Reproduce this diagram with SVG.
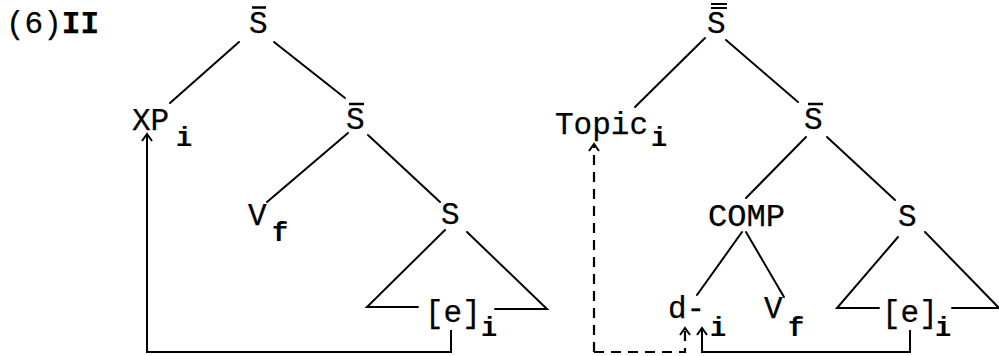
<svg xmlns="http://www.w3.org/2000/svg" width="999" height="356" viewBox="0 0 999 356">
<defs>
<marker id="ah" viewBox="0 0 12 12" refX="10" refY="6" markerWidth="12" markerHeight="12" markerUnits="userSpaceOnUse" orient="auto">
<path d="M3,1 L10,6 L3,11" fill="none" stroke="#000" stroke-width="2"/>
</marker>
</defs>
<style>
text{font-family:"Liberation Mono","Courier New",monospace;fill:#000;}
.l{font-size:31px;stroke:#000;stroke-width:0.25;}
.s{font-size:27px;font-weight:bold;}
.e{stroke:#000;stroke-width:2;fill:none;stroke-linecap:round;}
.bar{stroke:#000;stroke-width:2.5;}
.c{stroke:#000;stroke-width:2;fill:none;}
.d{stroke:#000;stroke-width:2.2;fill:none;stroke-dasharray:10 7;}
</style>
<text class="l" x="6" y="33">(6)<tspan font-weight="bold">II</tspan></text>

<g id="L_Sbar_top"><text class="l" x="249" y="33">S</text><line class="bar" x1="252" y1="7.5" x2="266" y2="7.5"/></g>
<g id="L_XP"><text class="l" x="132" y="130">XP</text><text class="s" x="176" y="146">i</text></g>
<g id="L_Sbar_mid"><text class="l" x="346" y="129">S</text><line class="bar" x1="349" y1="104" x2="364" y2="104"/></g>
<g id="L_Vf"><text class="l" x="248" y="225">V</text><text class="s" x="272" y="241">f</text></g>
<g id="L_S"><text class="l" x="441" y="224">S</text></g>
<g id="L_e"><text class="l" x="425" y="322">[e]</text><text class="s" x="481" y="336">i</text></g>

<g id="R_Sbb_top"><text class="l" x="707" y="33">S</text><line x1="711" y1="4" x2="727" y2="4" stroke="#000" stroke-width="2"/><line x1="711" y1="8" x2="727" y2="8" stroke="#000" stroke-width="2"/></g>
<g id="R_Topic"><text class="l" x="555" y="134">Topic</text><text class="s" x="651" y="146">i</text></g>
<g id="R_Sbar_mid"><text class="l" x="804" y="129">S</text><line class="bar" x1="808" y1="104" x2="823" y2="104"/></g>
<g id="R_COMP"><text class="l" x="708" y="226" textLength="77" lengthAdjust="spacingAndGlyphs">COMP</text></g>
<g id="R_S"><text class="l" x="898" y="226">S</text></g>
<g id="R_d"><text class="l" x="668" y="318">d-</text><text class="s" x="710" y="336">i</text></g>
<g id="R_Vf"><text class="l" x="764" y="318">V</text><text class="s" x="788" y="336">f</text></g>
<g id="R_e"><text class="l" x="882" y="322">[e]</text><text class="s" x="935" y="336">i</text></g>

<g id="connectors">
<line class="e" x1="239" y1="42" x2="170" y2="103"/>
<line class="e" x1="274" y1="42" x2="345" y2="98"/>
<line class="e" x1="348" y1="133" x2="267" y2="202"/>
<line class="e" x1="368" y1="135" x2="440" y2="202"/>
<polyline class="e" points="445,230 367,307 418,307"/>
<polyline class="e" points="467,232 547,309 495,309"/>

<line class="e" x1="705" y1="38" x2="635" y2="107"/>
<line class="e" x1="726" y1="40" x2="798" y2="102"/>
<line class="e" x1="806" y1="137" x2="746" y2="198"/>
<line class="e" x1="827" y1="137" x2="895" y2="200"/>
<line class="e" x1="742" y1="232" x2="697" y2="295"/>
<line class="e" x1="746" y1="232" x2="784" y2="297"/>
<polyline class="e" points="898,237 837,308 879,308"/>
<polyline class="e" points="925,232 1001,310"/>
<line class="e" x1="952" y1="308" x2="1000" y2="308"/>

<polyline class="c" points="451,330 451,352 147,352 147,134" marker-end="url(#ah)"/>
<polyline class="c" points="910,330 910,352 702,352 702,328" marker-end="url(#ah)"/>
<polyline class="d" points="594,352 685,352 685,328" marker-end="url(#ah)"/>
<line class="d" x1="594" y1="352" x2="594" y2="144" marker-end="url(#ah)"/>
</g>
</svg>
